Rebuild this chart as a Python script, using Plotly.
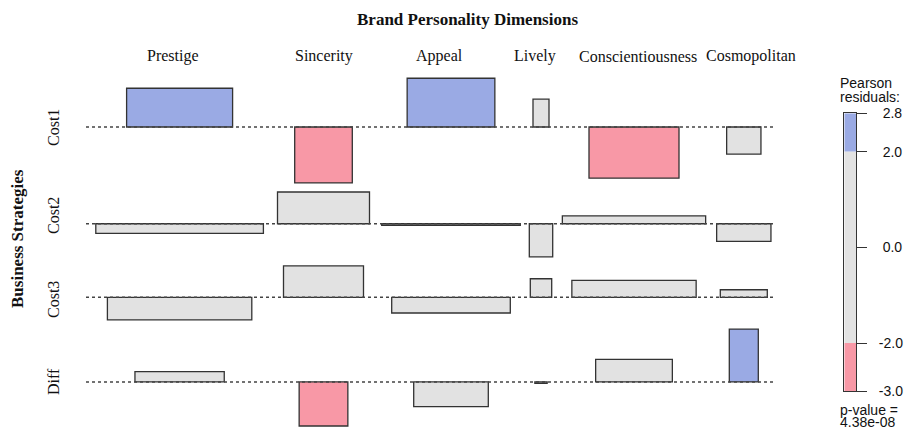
import plotly.graph_objects as go

strategies = ["Cost1", "Cost2", "Cost3", "Diff"]
dimensions = ["Prestige", "Sincerity", "Appeal", "Lively", "Conscientiousness", "Cosmopolitan"]

# Pearson residuals, one list per strategy (columns follow `dimensions`)
res_cost1 = [2.05, -2.96, 2.58, 1.47, -2.71, -1.43]
res_cost2 = [-0.51, 1.68, -0.08, -1.75, 0.42, -0.93]
res_cost3 = [-1.20, 1.66, -0.83, 0.98, 0.90, 0.40]
res_diff = [0.55, -2.33, -1.31, -0.08, 1.20, 2.80]

# sqrt(expected counts) -> bar widths
sqe_cost1 = [10.60, 5.76, 8.77, 1.60, 9.00, 3.43]
sqe_cost2 = [16.76, 9.20, 13.86, 2.34, 14.33, 5.43]
sqe_cost3 = [14.44, 8.00, 11.86, 2.14, 12.43, 4.70]
sqe_diff = [8.93, 4.87, 7.46, 1.23, 7.67, 2.90]

legend_breaks = [-3.0, -2.0, 2.0, 2.8]
legend_ticks = [-3.0, -2.0, 0.0, 2.0, 2.8]
p_value = "4.38e-08"

residuals = [res_cost1, res_cost2, res_cost3, res_diff]
sqrt_exp = [sqe_cost1, sqe_cost2, sqe_cost3, sqe_diff]

W, H = 905, 430
BLUE, GREY, RED = "#9AAAE4", "#E2E2E2", "#F898A6"
EDGE = "#333333"
SERIF = "Liberation Serif"
SANS = "Liberation Sans"


def px(x):
    return x / W


def py(y):
    return 1 - y / H


def shade(r):
    if r > 2:
        return BLUE
    if r < -2:
        return RED
    return GREY


# layout of the association plot
col_centers = [17.96, 32.35, 45.10, 54.10, 63.40, 74.38]  # x units (10 px)
Y_SCALE = 18.9  # px per residual unit
Y0 = 127  # pixel of first baseline
GAP = 0.48

baselines = [0.0]
for i in range(1, len(residuals)):
    prev_low = -min(min(residuals[i - 1]), 0)
    cur_high = max(max(residuals[i]), 0)
    baselines.append(baselines[-1] - (prev_low + cur_high + GAP))

fig = go.Figure()

# dotted baselines
lx, ly = [], []
for b in baselines:
    lx += [8.6, 77.4, None]
    ly += [b, b, None]
fig.add_trace(go.Scatter(x=lx, y=ly, mode="lines", hoverinfo="skip",
                         line=dict(color="#444444", width=1.5, dash="dot"),
                         showlegend=False))

bx, by, bb, bw, bc, txt = [], [], [], [], [], []
for i, s in enumerate(strategies):
    for j, d in enumerate(dimensions):
        r = residuals[i][j]
        bx.append(col_centers[j])
        by.append(r)
        bb.append(baselines[i])
        bw.append(sqrt_exp[i][j])
        bc.append(shade(r))
        txt.append(f"{s} / {d}: {r:.2f}")

fig.add_trace(go.Bar(x=bx, y=by, base=bb, width=bw, hovertext=txt, hoverinfo="text",
                     marker=dict(color=bc, line=dict(color=EDGE, width=1.3)),
                     showlegend=False))

# legend bar (residual shading scale)
seg_colors = [RED, GREY, BLUE]
for k in range(len(legend_breaks) - 1):
    fig.add_trace(go.Bar(x=[0], y=[legend_breaks[k + 1] - legend_breaks[k]],
                         base=[legend_breaks[k]], width=[1],
                         marker=dict(color=seg_colors[k], line=dict(width=0)),
                         xaxis="x2", yaxis="y2", hoverinfo="skip", showlegend=False))

annotations = [
    dict(text="<b>Brand Personality Dimensions</b>", x=px(468), y=py(20),
         font=dict(family=SERIF, size=17, color="#111111")),
    dict(text="<b>Business Strategies</b>", x=px(17), y=py(239), textangle=-90,
         font=dict(family=SERIF, size=17, color="#111111")),
]
label_x = [173, 324, 439, 535, 637.5, 750.5]
for d, x in zip(dimensions, label_x):
    annotations.append(dict(text=d, x=px(x), y=py(56),
                            font=dict(family=SERIF, size=16, color="#111111")))
row_label_y = [128, 216, 300, 382]
for s, y in zip(strategies, row_label_y):
    annotations.append(dict(text=s, x=px(53), y=py(y), textangle=-90,
                            font=dict(family=SERIF, size=16, color="#111111")))
for t, y in [("Pearson", 83), ("residuals:", 97), ("p-value =", 410), (p_value, 422)]:
    annotations.append(dict(text=t, x=px(838), y=py(y), xanchor="left",
                            font=dict(family=SANS, size=14, color="#111111")))
for a in annotations:
    a.update(xref="paper", yref="paper", showarrow=False)
    a.setdefault("xanchor", "center")
    a.setdefault("yanchor", "middle")

tick_text = [("" if v < 0 else "\u2008") + f"{v:.1f}" for v in legend_ticks]

fig.update_layout(
    width=W, height=H,
    margin=dict(l=0, r=0, t=0, b=0, pad=0),
    paper_bgcolor="white", plot_bgcolor="rgba(0,0,0,0)",
    barmode="overlay",
    showlegend=False,
    annotations=annotations,
    xaxis=dict(range=[0, W / 10], domain=[0, 1], visible=False, fixedrange=True,
               automargin=False),
    yaxis=dict(range=[-(H - Y0) / Y_SCALE, Y0 / Y_SCALE], domain=[0, 1],
               visible=False, fixedrange=True, automargin=False),
    xaxis2=dict(domain=[px(844.3), px(856)], range=[-0.5, 0.5], anchor="y2",
                showline=True, mirror=True, linecolor=EDGE, linewidth=1,
                showticklabels=False, showgrid=False, zeroline=False, ticks="",
                automargin=False, fixedrange=True),
    yaxis2=dict(domain=[py(391), py(113.3)], range=[legend_breaks[0], legend_breaks[-1]],
                anchor="x2", side="right", showline=True, mirror=True,
                linecolor=EDGE, linewidth=1, ticks="outside", ticklen=10,
                tickcolor=EDGE, tickvals=legend_ticks, ticktext=tick_text,
                ticklabelstandoff=9, automargin=False, fixedrange=True,
                tickfont=dict(family=SANS, size=14, color="#111111"),
                showgrid=False, zeroline=False),
)

fig.write_html("out.html", config={"displayModeBar": False},
               post_script="document.body.style.margin='0';document.body.style.overflow='hidden';")
